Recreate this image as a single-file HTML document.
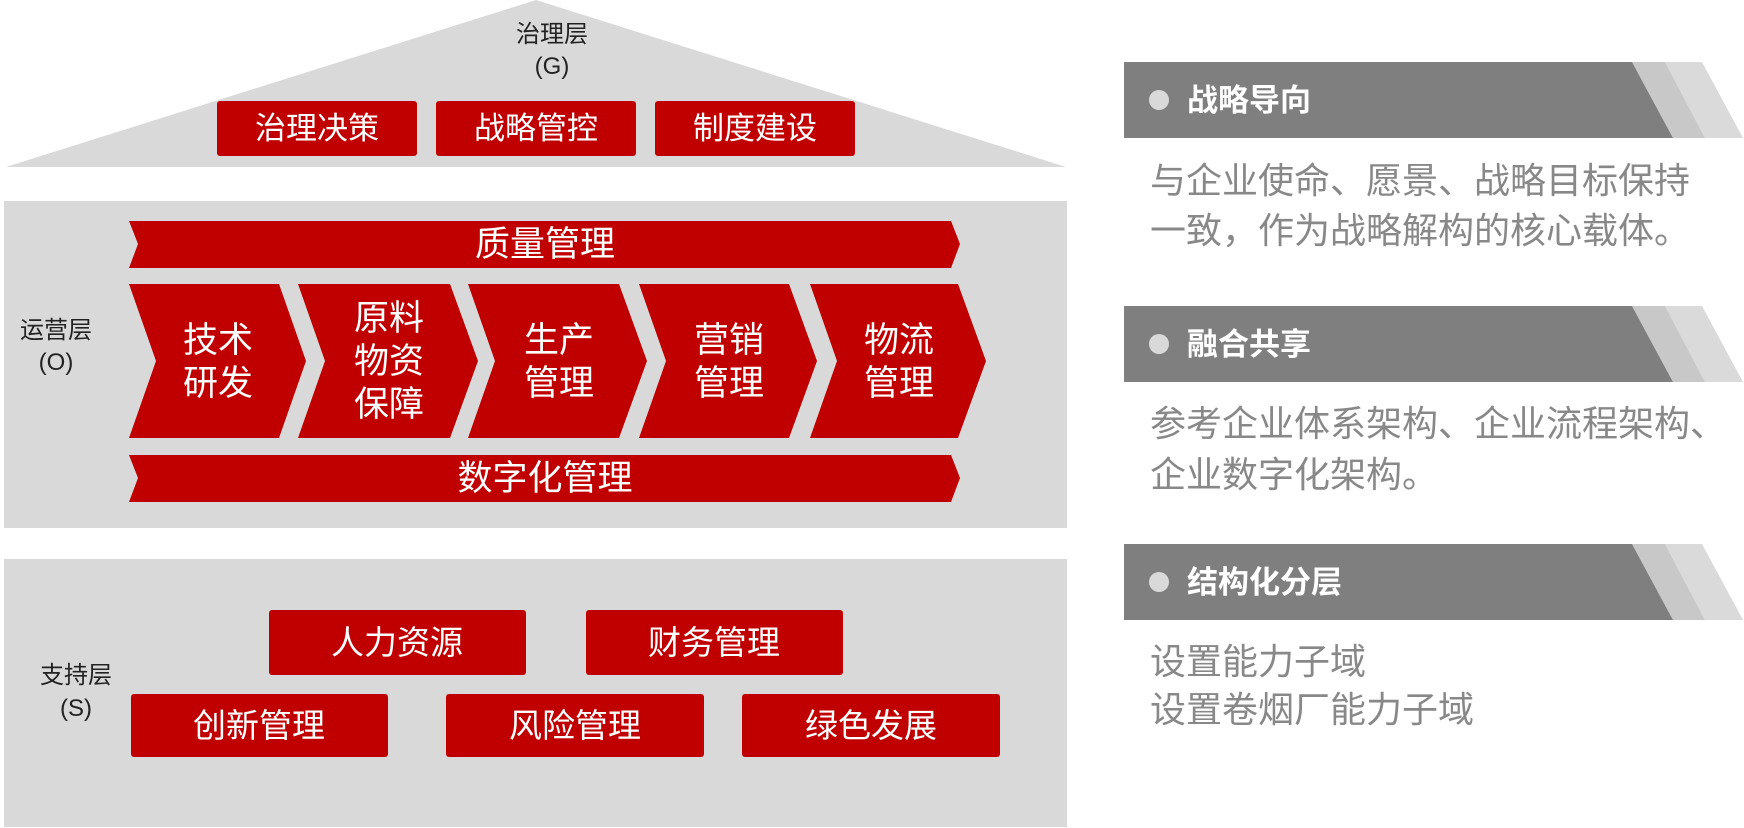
<!DOCTYPE html>
<html><head><meta charset="utf-8"><style>
html,body{margin:0;padding:0;background:#fff;width:1744px;height:828px;overflow:hidden}
svg{display:block}
text{font-family:"Liberation Sans","Noto Sans CJK SC",sans-serif}
</style></head><body>
<svg width="1744" height="828" viewBox="0 0 1744 828" xmlns="http://www.w3.org/2000/svg">
<polygon points="536,0 1066,167 6,167" fill="#d9d9d9"/>
<text x="552" y="42" font-size="24" fill="#222" text-anchor="middle">治理层</text>
<text x="552" y="74" font-size="24" fill="#222" text-anchor="middle">(G)</text>
<g fill="#c00000">
<rect x="217" y="101" width="200" height="55" rx="3"/>
<rect x="436" y="101" width="200" height="55" rx="3"/>
<rect x="655" y="101" width="200" height="55" rx="3"/>
</g>
<g fill="#fff" font-size="31" text-anchor="middle">
<text x="317" y="139">治理决策</text>
<text x="536" y="139">战略管控</text>
<text x="755" y="139">制度建设</text>
</g>
<rect x="4" y="201" width="1063" height="327" fill="#d9d9d9"/>
<text x="56" y="338" font-size="24" fill="#222" text-anchor="middle">运营层</text>
<text x="56" y="370" font-size="24" fill="#222" text-anchor="middle">(O)</text>
<g fill="#c00000">
<polygon points="129,221 951,221 960,244 951,268 129,268 138,244"/>
<polygon points="129,455 951,455 960,478 951,502 129,502 138,478"/>
<polygon points="129,284 279,284 306,361 279,438 129,438 156,361"/>
<polygon points="298,284 450,284 478,361 450,438 298,438 325,361"/>
<polygon points="468,284 619,284 647,361 619,438 468,438 495,361"/>
<polygon points="639,284 789,284 817,361 789,438 639,438 666,361"/>
<polygon points="810,284 958,284 986,361 958,438 810,438 837,361"/>
</g>
<g fill="#fff" font-size="35" text-anchor="middle">
<text x="545" y="256">质量管理</text>
<text x="545" y="490">数字化管理</text>
<text x="218" y="352">技术</text><text x="218" y="395">研发</text>
<text x="389" y="330">原料</text><text x="389" y="373">物资</text><text x="389" y="416">保障</text>
<text x="559" y="352">生产</text><text x="559" y="395">管理</text>
<text x="729" y="352">营销</text><text x="729" y="395">管理</text>
<text x="899" y="352">物流</text><text x="899" y="395">管理</text>
</g>
<rect x="4" y="559" width="1063" height="268" fill="#d9d9d9"/>
<text x="76" y="683" font-size="24" fill="#222" text-anchor="middle">支持层</text>
<text x="76" y="716" font-size="24" fill="#222" text-anchor="middle">(S)</text>
<g fill="#c00000">
<rect x="269" y="610" width="257" height="65" rx="3"/>
<rect x="586" y="610" width="257" height="65" rx="3"/>
<rect x="131" y="694" width="257" height="63" rx="3"/>
<rect x="446" y="694" width="258" height="63" rx="3"/>
<rect x="742" y="694" width="258" height="63" rx="3"/>
</g>
<g fill="#fff" font-size="33" text-anchor="middle">
<text x="397" y="654">人力资源</text>
<text x="714" y="654">财务管理</text>
<text x="259" y="737">创新管理</text>
<text x="575" y="737">风险管理</text>
<text x="871" y="737">绿色发展</text>
</g>
<g id="b1">
<polygon points="1665,62 1702,62 1743,138 1705,138" fill="#dadada"/>
<polygon points="1632,62 1665,62 1705,138 1673,138" fill="#c8c8c8"/>
<polygon points="1124,62 1632,62 1673,138 1124,138" fill="#7f7f7f"/>
</g>
<use href="#b1" y="244"/>
<use href="#b1" y="482"/>
<g fill="#d9d9d9"><circle cx="1159" cy="100" r="10"/><circle cx="1159" cy="344" r="10"/><circle cx="1159" cy="582" r="10"/></g>
<g fill="#fff" font-size="31" font-weight="bold">
<text x="1187" y="111">战略导向</text>
<text x="1187" y="355">融合共享</text>
<text x="1187" y="593">结构化分层</text>
</g>
<g fill="#888" font-size="36">
<text x="1150" y="193">与企业使命、愿景、战略目标保持</text>
<text x="1150" y="243">一致，作为战略解构的核心载体。</text>
<text x="1150" y="436">参考企业体系架构、企业流程架构、</text>
<text x="1150" y="487">企业数字化架构。</text>
<text x="1150" y="674">设置能力子域</text>
<text x="1150" y="722">设置卷烟厂能力子域</text>
</g>
</svg>
</body></html>
